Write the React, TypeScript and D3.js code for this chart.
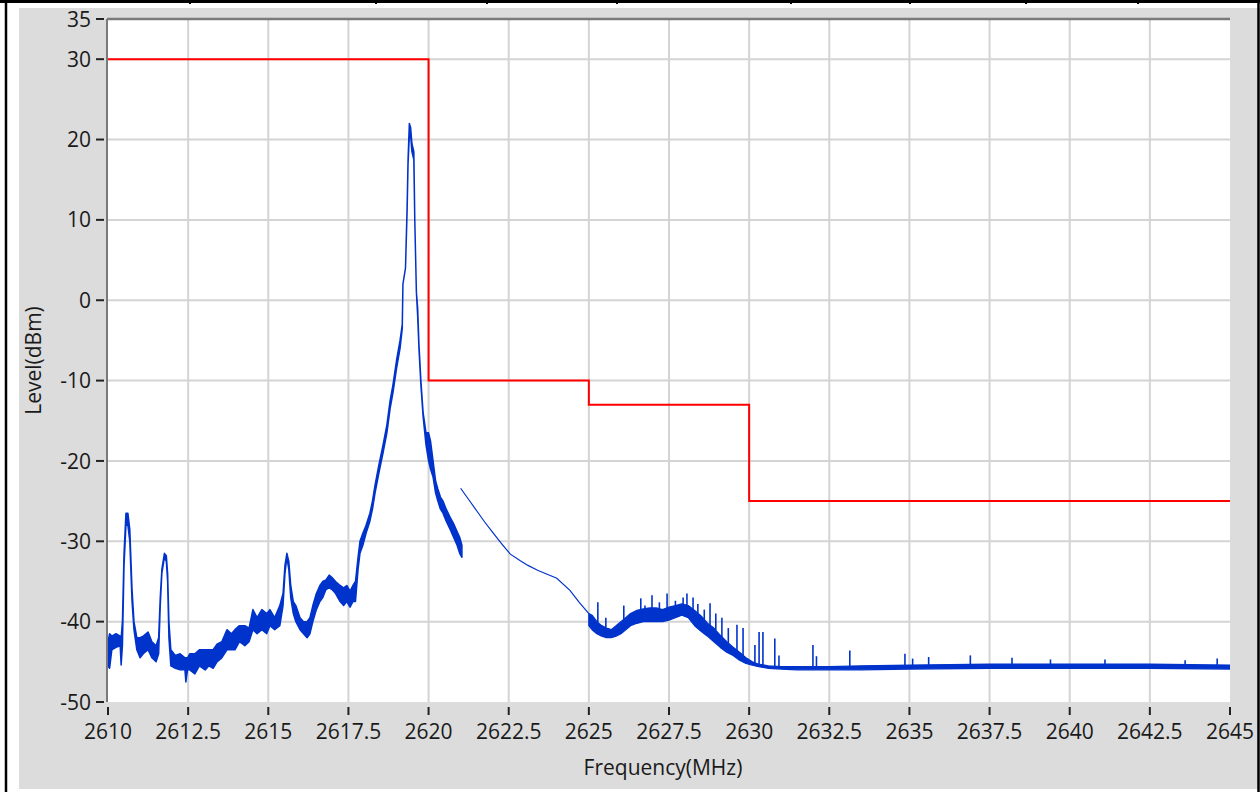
import React from "react";
import * as d3 from "d3";

// ---------- data ----------
const xTicks = [2610, 2612.5, 2615, 2617.5, 2620, 2622.5, 2625, 2627.5, 2630, 2632.5, 2635, 2637.5, 2640, 2642.5, 2645];
const yTicks = [35, 30, 20, 10, 0, -10, -20, -30, -40, -50];

// spectrum mask (step after)
const limitFreq = [2610, 2620, 2625, 2630, 2645];
const limitLevel = [30, -10, -13, -25, -25];

// sweep A: [freq MHz, low dBm, high dBm]
const sweepA: [number, number, number][] = [
  [2610.0, -45.5, -42.5], [2610.05, -45.8, -41.5], [2610.12, -43.5, -41.8], [2610.25, -43.2, -41.5],
  [2610.38, -43.0, -41.8], [2610.41, -45.4, -42.0], [2610.45, -43.0, -40.0], [2610.5, -33.0, -31.5],
  [2610.56, -28.0, -26.5], [2610.62, -28.0, -26.5], [2610.68, -30.0, -28.5], [2610.75, -37.5, -36.0],
  [2610.81, -41.0, -40.0], [2610.9, -43.5, -42.0], [2611.0, -44.5, -42.0], [2611.1, -44.0, -41.8],
  [2611.25, -43.5, -41.3], [2611.37, -44.5, -42.5], [2611.5, -45.0, -43.0], [2611.58, -44.0, -42.0],
  [2611.63, -38.0, -37.0], [2611.68, -34.0, -33.5], [2611.76, -32.0, -31.5], [2611.82, -32.5, -31.8],
  [2611.86, -35.0, -34.0], [2611.9, -42.0, -40.0], [2611.96, -45.5, -43.5], [2612.1, -45.8, -44.2],
  [2612.25, -46.0, -44.0], [2612.4, -46.0, -44.5], [2612.43, -47.5, -44.5], [2612.48, -46.0, -44.5],
  [2612.55, -46.0, -44.0], [2612.71, -46.5, -44.0], [2612.85, -45.5, -43.5], [2613.03, -46.0, -43.5],
  [2613.15, -45.5, -43.5], [2613.28, -45.8, -43.5], [2613.4, -45.0, -42.8], [2613.55, -44.5, -42.5],
  [2613.71, -43.5, -41.0], [2613.85, -43.5, -41.5], [2613.96, -43.5, -41.0], [2614.1, -42.5, -40.5],
  [2614.27, -43.0, -40.5], [2614.4, -42.5, -40.8], [2614.52, -41.0, -38.5], [2614.65, -41.5, -39.5],
  [2614.8, -41.0, -38.5], [2614.95, -41.5, -39.0], [2615.05, -40.5, -38.5], [2615.2, -41.0, -39.5],
  [2615.36, -40.5, -38.0], [2615.46, -38.0, -36.5], [2615.52, -34.0, -33.0], [2615.58, -32.0, -31.5],
  [2615.64, -33.5, -32.5], [2615.7, -37.0, -35.5], [2615.78, -39.0, -37.5], [2615.86, -40.0, -38.0],
  [2615.99, -41.0, -39.5], [2616.1, -41.5, -40.0], [2616.21, -42.0, -40.0], [2616.3, -41.5, -39.5],
  [2616.39, -40.0, -38.0], [2616.5, -38.5, -36.5], [2616.61, -37.5, -35.5], [2616.7, -37.0, -35.0],
  [2616.8, -36.0, -34.8], [2616.9, -35.8, -34.2], [2616.99, -36.0, -34.5], [2617.1, -36.5, -35.0],
  [2617.24, -37.5, -35.5], [2617.35, -38.0, -35.8], [2617.45, -37.5, -35.5], [2617.55, -38.2, -36.2],
  [2617.64, -37.5, -35.5], [2617.72, -37.5, -35.0], [2617.8, -33.5, -32.0], [2617.86, -31.5, -30.0],
  [2617.95, -30.5, -29.0], [2618.05, -29.0, -28.0], [2618.17, -27.5, -26.5], [2618.25, -26.0, -25.0],
  [2618.33, -24.0, -23.0], [2618.45, -21.5, -20.5], [2618.58, -19.0, -18.0], [2618.7, -16.5, -15.5],
  [2618.8, -13.5, -12.5], [2618.89, -11.5, -10.5], [2619.0, -8.5, -7.5], [2619.11, -6.0, -5.0],
  [2619.18, -3.5, -3.0], [2619.2, 2.0, 2.0], [2619.28, 4.0, 4.0], [2619.33, 11.0, 11.5],
  [2619.36, 17.0, 17.5], [2619.4, 20.5, 22.0], [2619.44, 20.5, 21.5], [2619.48, 18.5, 19.5],
  [2619.54, 17.5, 18.5], [2619.57, 10.0, 10.0], [2619.62, 1.0, 1.0], [2619.66, -2.0, -1.0],
  [2619.7, -6.0, -5.5], [2619.76, -10.5, -10.0], [2619.83, -14.5, -14.0], [2619.92, -18.0, -16.5],
  [2620.0, -20.0, -16.5], [2620.06, -21.0, -17.5], [2620.14, -22.0, -20.0], [2620.22, -24.0, -22.5],
  [2620.29, -25.0, -23.5], [2620.37, -26.0, -24.5], [2620.45, -26.5, -25.0], [2620.55, -27.5, -26.0],
  [2620.67, -28.5, -27.0], [2620.78, -29.5, -27.8], [2620.89, -30.5, -28.8], [2620.97, -31.5, -29.5],
  [2621.04, -32.0, -30.5],
];

// sweep B: thin trace [freq MHz, level dBm]
const sweepB: [number, number][] = [
  [2621.0, -23.4], [2621.25, -24.8], [2621.5, -26.2], [2621.75, -27.6], [2622.0, -28.9],
  [2622.3, -30.4], [2622.55, -31.6], [2622.85, -32.4], [2623.1, -33.0], [2623.4, -33.6],
  [2623.7, -34.1], [2624.0, -34.6], [2624.41, -36.1], [2624.7, -37.6], [2625.0, -39.0],
];

// sweep C: [freq MHz, low dBm, high dBm]
const sweepC: [number, number, number][] = [
  [2625.0, -40.5, -39.0], [2625.1, -41.0, -39.2], [2625.25, -41.5, -40.0], [2625.4, -41.8, -40.5],
  [2625.55, -42.0, -40.8], [2625.7, -42.0, -41.0], [2625.85, -41.8, -40.5], [2626.0, -41.5, -40.0],
  [2626.15, -41.0, -39.5], [2626.3, -40.5, -39.0], [2626.5, -40.2, -38.6], [2626.7, -40.0, -38.4],
  [2626.9, -40.0, -38.3], [2627.1, -40.0, -38.3], [2627.3, -40.0, -38.5], [2627.5, -39.8, -38.2],
  [2627.7, -39.5, -38.0], [2627.9, -39.2, -37.8], [2628.1, -39.5, -38.0], [2628.3, -40.5, -38.6],
  [2628.5, -41.2, -39.3], [2628.7, -41.8, -40.2], [2628.9, -42.5, -40.8], [2629.1, -43.2, -41.7],
  [2629.3, -43.8, -42.5], [2629.5, -44.2, -43.2], [2629.7, -44.8, -43.8], [2629.9, -45.2, -44.5],
  [2630.1, -45.4, -45.0], [2630.3, -45.6, -45.3], [2630.6, -45.8, -45.5], [2631.0, -45.9, -45.6],
  [2631.5, -46.0, -45.6], [2632.5, -46.0, -45.6], [2633.5, -46.0, -45.5], [2635.0, -45.9, -45.4],
  [2637.5, -45.8, -45.3], [2640.0, -45.8, -45.3], [2642.5, -45.8, -45.3], [2645.0, -45.9, -45.4],
];

// narrow spikes on sweep C: [freq MHz, peak dBm]
const spikes: [number, number][] = [
  [2625.28, -37.6], [2625.53, -39.5], [2626.09, -38.0], [2626.62, -37.1], [2626.75, -38.0],
  [2626.97, -36.7], [2627.2, -37.6], [2627.44, -36.5], [2627.7, -37.4], [2627.94, -37.0],
  [2628.06, -36.5], [2628.25, -37.0], [2628.4, -37.8], [2628.6, -38.5], [2628.78, -37.7],
  [2628.96, -39.0], [2629.15, -39.5], [2629.35, -40.8], [2629.62, -40.4], [2629.81, -40.8],
  [2630.18, -42.9], [2630.31, -41.3], [2630.43, -41.3], [2630.8, -42.1], [2630.93, -44.2],
  [2631.99, -42.9], [2632.1, -44.3], [2633.14, -43.6], [2634.86, -44.0], [2635.1, -44.6],
  [2635.6, -44.4], [2636.9, -44.2], [2638.2, -44.5], [2639.4, -44.7], [2641.1, -44.7],
  [2643.6, -44.8], [2644.6, -44.6],
];

const W = 1260;
const H = 792;
const PL = 108, PR = 1230, PT = 19, PB = 702;
const FONT = "'Segoe UI', 'Open Sans', 'Noto Sans', sans-serif";
const BLUE = "#0033cc";

export default function App() {
  const x = d3.scaleLinear().domain([2610, 2645]).range([PL, PR]);
  const y = d3.scaleLinear().domain([-50, 35]).range([PB, PT]);

  const limitPts = limitFreq.map((f, i) => [f, limitLevel[i]] as [number, number]);
  const limitPath = d3.line<[number, number]>()
    .x((d) => x(d[0]))
    .y((d) => y(d[1]))
    .curve(d3.curveStepAfter)(limitPts) || "";

  const band = d3.area<[number, number, number]>()
    .x((d) => x(d[0]))
    .y0((d) => y(d[1]))
    .y1((d) => y(d[2]));
  const pathA = band(sweepA) || "";
  const pathC = band(sweepC) || "";
  const pathB = d3.line<[number, number]>().x((d) => x(d[0])).y((d) => y(d[1]))(sweepB) || "";

  const hiAt = (f: number) => {
    const i = d3.bisector((d: [number, number, number]) => d[0]).left(sweepC, f);
    const a = sweepC[Math.max(0, i - 1)];
    const b = sweepC[Math.min(sweepC.length - 1, i)];
    if (a[0] === b[0]) return a[2];
    const t = (f - a[0]) / (b[0] - a[0]);
    return a[2] + t * (b[2] - a[2]);
  };

  const topDividers = [190, 376, 487, 617, 791, 910, 1026, 1138];
  const vGrid = xTicks.filter((t) => t > 2610 && t < 2645);
  const hGrid = yTicks.filter((t) => t > -50 && t < 35);

  return (
    <div style={{ position: "absolute", left: 0, top: 0, width: W, height: H }}>
      <svg width={W} height={H} style={{ display: "block" }} fontFamily={FONT}>
        <rect x={0} y={0} width={W} height={H} fill="#ffffff" />
        {/* outer grey panel */}
        <rect x={19} y={8} width={W - 19} height={781} fill="#dcdcdc" />
        {/* black frame lines */}
        <line x1={0} x2={W} y1={1.5} y2={1.5} stroke="#000" strokeWidth={3} />
        {topDividers.map((d) => (
          <line key={d} x1={d} x2={d} y1={0} y2={4} stroke="#000" strokeWidth={2} />
        ))}
        <line x1={6} x2={6} y1={0} y2={H} stroke="#000" strokeWidth={2.5} />
        <line x1={1258.5} x2={1258.5} y1={0} y2={H} stroke="#000" strokeWidth={2.5} />

        {/* plot area */}
        <rect x={PL} y={PT} width={PR - PL} height={PB - PT} fill="#ffffff" />
        {vGrid.map((t) => (
          <line key={"v" + t} x1={x(t)} x2={x(t)} y1={PT} y2={PB} stroke="#d4d4d4" strokeWidth={2} />
        ))}
        {hGrid.map((t) => (
          <line key={"h" + t} x1={PL} x2={PR} y1={y(t)} y2={y(t)} stroke="#d4d4d4" strokeWidth={2} />
        ))}
        {/* inset border: top & left */}
        <line x1={PL - 1} x2={PR} y1={PT} y2={PT} stroke="#7a7a7a" strokeWidth={2.5} />
        <line x1={PL - 1} x2={PL - 1} y1={PT} y2={PB} stroke="#7a7a7a" strokeWidth={2} />

        <defs>
          <clipPath id="plotClip">
            <rect x={PL} y={PT} width={PR - PL} height={PB - PT} />
          </clipPath>
        </defs>
        <g clipPath="url(#plotClip)">
          <path d={limitPath} fill="none" stroke="#ff0000" strokeWidth={2} />
          <path d={pathA} fill={BLUE} stroke={BLUE} strokeWidth={1.5} strokeLinejoin="round" />
          <path d={pathC} fill={BLUE} stroke={BLUE} strokeWidth={1.3} strokeLinejoin="round" />
          <path d={pathB} fill="none" stroke={BLUE} strokeWidth={1.2} />
          {spikes.map(([f, v]) => (
            <line key={"s" + f} x1={x(f)} x2={x(f)} y1={y(hiAt(f))} y2={y(v)} stroke={BLUE} strokeWidth={1.6} />
          ))}
        </g>

        {/* y axis ticks and labels */}
        {yTicks.map((t) => (
          <g key={"yt" + t}>
            <line x1={96} x2={104} y1={y(t)} y2={y(t)} stroke="#222" strokeWidth={2} />
            <text x={91} y={y(t)} dy="0.36em" textAnchor="end" fontSize={21} fill="#1a1a1a">
              {t}
            </text>
          </g>
        ))}
        {/* x axis ticks and labels */}
        {xTicks.map((t) => (
          <g key={"xt" + t}>
            <line x1={x(t)} x2={x(t)} y1={707} y2={715} stroke="#222" strokeWidth={2} />
            <text x={x(t)} y={739} textAnchor="middle" fontSize={21} fill="#1a1a1a">
              {t}
            </text>
          </g>
        ))}
        <text x={(PL + PR) / 2 - 6} y={775} textAnchor="middle" fontSize={21} fill="#1a1a1a">
          Frequency(MHz)
        </text>
        <text
          transform={`translate(41, ${(PT + PB) / 2}) rotate(-90)`}
          textAnchor="middle"
          fontSize={21}
          fill="#1a1a1a"
        >
          Level(dBm)
        </text>
      </svg>
    </div>
  );
}
